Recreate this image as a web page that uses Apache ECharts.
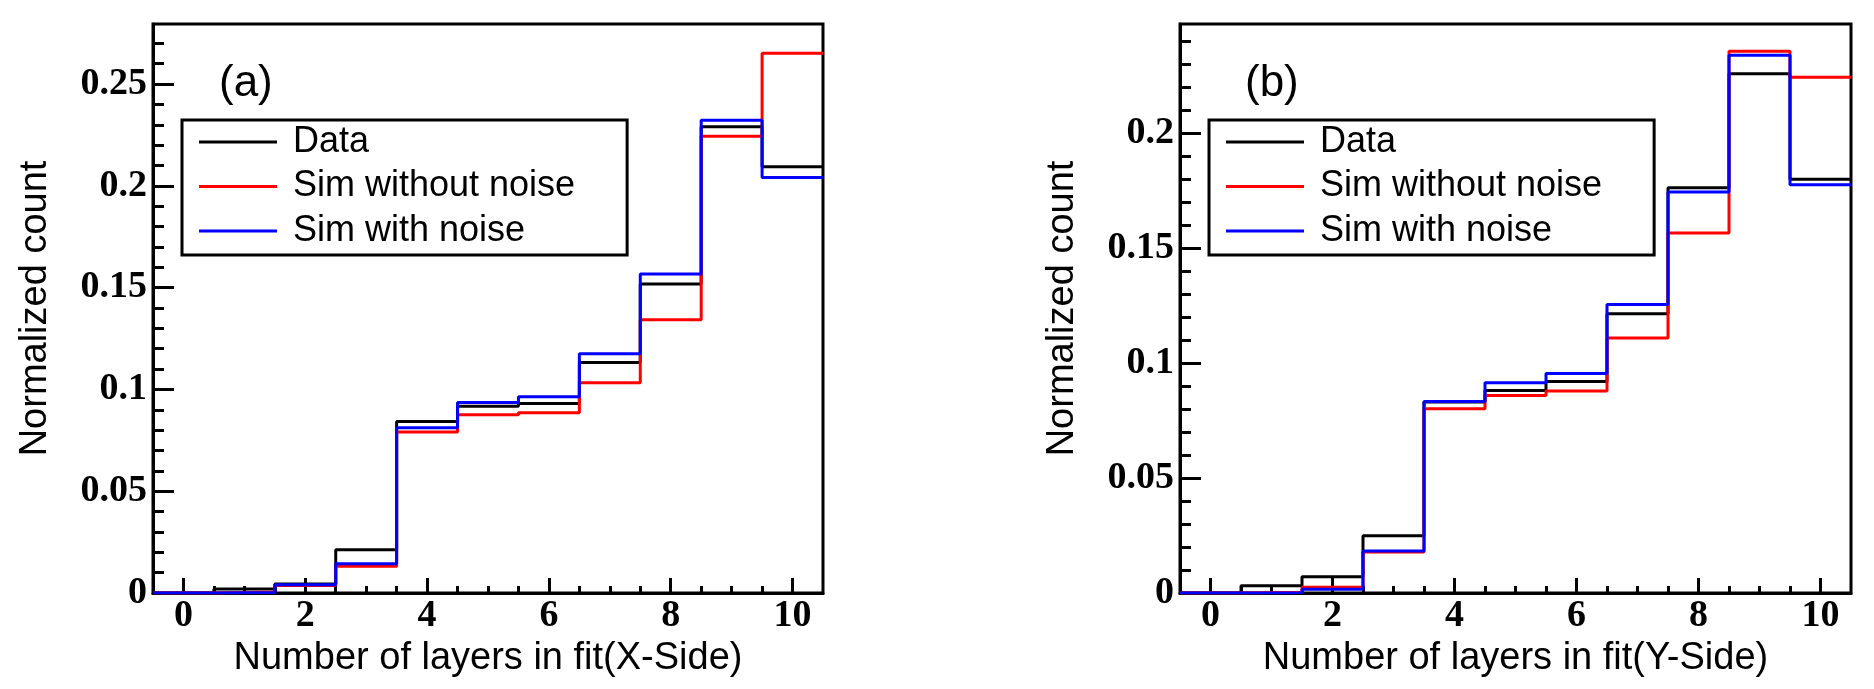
<!DOCTYPE html>
<html>
<head>
<meta charset="utf-8">
<script src="https://cdn.jsdelivr.net/npm/echarts@6/dist/echarts.min.js"></script>
<style>
html,body{margin:0;padding:0;background:#fff;}
#chart{width:1874px;height:689px;}
</style>
</head>
<body>
<div id="chart"></div>
<script>
// ---- data ----
const bins = [0, 1, 2, 3, 4, 5, 6, 7, 8, 9, 10];
const seriesNames = ['Data', 'Sim without noise', 'Sim with noise'];

// Panel (a): X-Side
const xSideData       = [0, 0.0020, 0.0044, 0.0212, 0.0843, 0.0917, 0.0931, 0.1132, 0.1518, 0.2290, 0.2094];
const xSideSimNoNoise = [0, 0.0005, 0.0037, 0.0132, 0.0791, 0.0876, 0.0886, 0.1033, 0.1342, 0.2244, 0.2651];
const xSideSimNoise   = [0, 0.0002, 0.0040, 0.0144, 0.0812, 0.0936, 0.0964, 0.1175, 0.1567, 0.2322, 0.2041];

// Panel (b): Y-Side
const ySideData       = [0, 0.0032, 0.0071, 0.0249, 0.0830, 0.0880, 0.0920, 0.1214, 0.1762, 0.2258, 0.1799];
const ySideSimNoNoise = [0, 0.0003, 0.0025, 0.0178, 0.0801, 0.0859, 0.0878, 0.1109, 0.1565, 0.2355, 0.2242];
const ySideSimNoise   = [0, 0.0001, 0.0016, 0.0183, 0.0833, 0.0914, 0.0954, 0.1254, 0.1743, 0.2338, 0.1775];

// ---- ticks ----
const xMajorTicks = [0, 2, 4, 6, 8, 10];
const xMinorTicks = [0, 0.5, 1, 1.5, 2, 2.5, 3, 3.5, 4, 4.5, 5, 5.5, 6, 6.5, 7, 7.5, 8, 8.5, 9, 9.5, 10];
const yMajorTicksA = [0, 0.05, 0.1, 0.15, 0.2, 0.25];
const yMinorTicksA = [0, 0.01, 0.02, 0.03, 0.04, 0.05, 0.06, 0.07, 0.08, 0.09, 0.1, 0.11, 0.12, 0.13, 0.14, 0.15, 0.16, 0.17, 0.18, 0.19, 0.2, 0.21, 0.22, 0.23, 0.24, 0.25, 0.26, 0.27];
const yMajorTicksB = [0, 0.05, 0.1, 0.15, 0.2];
const yMinorTicksB = [0, 0.01, 0.02, 0.03, 0.04, 0.05, 0.06, 0.07, 0.08, 0.09, 0.1, 0.11, 0.12, 0.13, 0.14, 0.15, 0.16, 0.17, 0.18, 0.19, 0.2, 0.21, 0.22, 0.23, 0.24];
const xRange = [-0.5, 10.5];
const yMaxA = 0.2795;
const yMaxB = 0.2474;
const xTitles = ['Number of layers in fit(X-Side)', 'Number of layers in fit(Y-Side)'];
const yTitle = 'Normalized count';
const panelLabels = ['(a)', '(b)'];

// ---- helpers ----
const colors = ['#000000', '#ff0000', '#0000ff'];
const SANS = 'Liberation Sans, Arial, Helvetica, sans-serif';
const SERIF = 'Liberation Serif, Times New Roman, serif';
const LW = 3;

function histPoints(centers, values) {
  const pts = centers.map((c, i) => [c - 0.5, values[i]]);
  pts.push([centers[centers.length - 1] + 0.5, values[values.length - 1]]);
  return pts;
}

function xAxes(gridIndex, title) {
  return [
    {
      type: 'value', gridIndex: gridIndex, position: 'bottom', min: xRange[0], max: xRange[1],
      name: title, nameLocation: 'middle', nameGap: 41,
      nameTextStyle: { fontFamily: SANS, fontSize: 38, color: '#000', lineHeight: 38 },
      axisLine: { show: true, onZero: false, lineStyle: { color: '#000', width: LW } },
      axisTick: { show: true, inside: true, length: 15, customValues: xMajorTicks, lineStyle: { color: '#000', width: LW } },
      axisLabel: { show: true, customValues: xMajorTicks, margin: 4, fontFamily: SERIF, fontWeight: 'bold', fontSize: 38, lineHeight: 38, color: '#000' },
      splitLine: { show: false }
    },
    {
      type: 'value', gridIndex: gridIndex, position: 'bottom', offset: 0, min: xRange[0], max: xRange[1],
      axisLine: { show: false, onZero: false },
      axisTick: { show: true, inside: true, length: 7, customValues: xMinorTicks, lineStyle: { color: '#000', width: LW } },
      axisLabel: { show: false },
      splitLine: { show: false }
    }
  ];
}

function yAxes(gridIndex, max, major, minor) {
  return [
    {
      type: 'value', gridIndex: gridIndex, position: 'left', min: 0, max: max,
      name: yTitle, nameLocation: 'middle', nameGap: 98, nameRotate: 90,
      nameTextStyle: { fontFamily: SANS, fontSize: 38, color: '#000' },
      axisLine: { show: true, onZero: false, lineStyle: { color: '#000', width: LW } },
      axisTick: { show: true, inside: true, length: 21, customValues: major, lineStyle: { color: '#000', width: LW } },
      axisLabel: { show: true, customValues: major, margin: 6, fontFamily: SERIF, fontWeight: 'bold', fontSize: 38, color: '#000' },
      splitLine: { show: false }
    },
    {
      type: 'value', gridIndex: gridIndex, position: 'left', offset: 0, min: 0, max: max,
      axisLine: { show: false, onZero: false },
      axisTick: { show: true, inside: true, length: 11, customValues: minor, lineStyle: { color: '#000', width: LW } },
      axisLabel: { show: false },
      splitLine: { show: false }
    }
  ];
}

function histSeries(name, values, color, xi, yi) {
  return {
    name: name, type: 'line', step: 'end', xAxisIndex: xi, yAxisIndex: yi,
    data: histPoints(bins, values), symbol: 'none', showSymbol: false,
    lineStyle: { color: color, width: LW }, itemStyle: { color: color },
    animation: false
  };
}

function legendFor(left) {
  return {
    left: left, top: 120, orient: 'vertical',
    data: seriesNames,
    icon: 'rect',
    backgroundColor: '#fff', borderColor: '#000', borderWidth: LW,
    padding: [2, 52, 4, 17],
    itemWidth: 78, itemHeight: 3, itemGap: 4.5,
    selectedMode: false,
    textStyle: { fontFamily: SANS, fontSize: 36, color: '#000', lineHeight: 40, padding: [0, 0, 0, 11] }
  };
}

const chart = echarts.init(document.getElementById('chart'), null, { renderer: 'canvas' });
chart.setOption({
  animation: false,
  backgroundColor: '#fff',
  title: [
    { text: panelLabels[0], left: 214, top: 57, textStyle: { fontFamily: SANS, fontSize: 44, fontWeight: 'normal', color: '#000' } },
    { text: panelLabels[1], left: 1240, top: 57, textStyle: { fontFamily: SANS, fontSize: 44, fontWeight: 'normal', color: '#000' } }
  ],
  grid: [
    { left: 153, right: 1051, top: 24, bottom: 96, show: true, borderColor: '#000', borderWidth: LW, backgroundColor: 'transparent' },
    { left: 1180, right: 23, top: 24, bottom: 96, show: true, borderColor: '#000', borderWidth: LW, backgroundColor: 'transparent' }
  ],
  legend: [legendFor(182), legendFor(1209)],
  xAxis: xAxes(0, xTitles[0]).concat(xAxes(1, xTitles[1])),
  yAxis: yAxes(0, yMaxA, yMajorTicksA, yMinorTicksA).concat(yAxes(1, yMaxB, yMajorTicksB, yMinorTicksB)),
  series: [
    histSeries(seriesNames[0], xSideData, colors[0], 0, 0),
    histSeries(seriesNames[1], xSideSimNoNoise, colors[1], 0, 0),
    histSeries(seriesNames[2], xSideSimNoise, colors[2], 0, 0),
    histSeries(seriesNames[0], ySideData, colors[0], 2, 2),
    histSeries(seriesNames[1], ySideSimNoNoise, colors[1], 2, 2),
    histSeries(seriesNames[2], ySideSimNoise, colors[2], 2, 2)
  ]
});
</script>
</body>
</html>
